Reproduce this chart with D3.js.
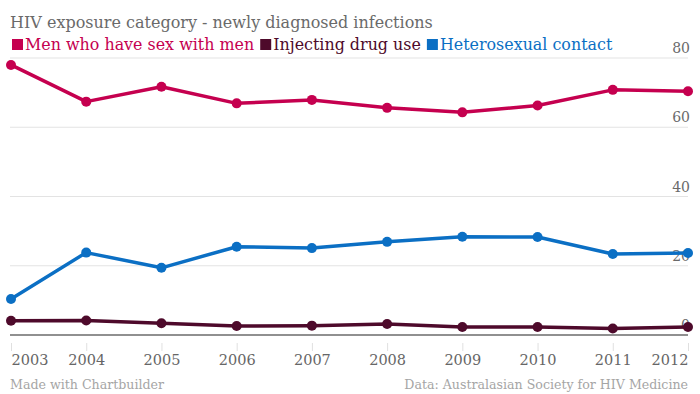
<!DOCTYPE html>
<html>
<head>
<meta charset="utf-8">
<script src="https://cdn.jsdelivr.net/npm/d3@7"></script>
<style>
  body { margin: 0; background: #fff; }
  text { font-family: "DejaVu Serif", "Liberation Serif", serif; }
</style>
</head>
<body>
<div id="chart"></div>
<script>
// data
var years = [2003, 2004, 2005, 2006, 2007, 2008, 2009, 2010, 2011, 2012];
var msm = [78.0, 67.4, 71.7, 66.9, 67.9, 65.6, 64.3, 66.3, 70.8, 70.4];
var idu = [4.1, 4.2, 3.4, 2.6, 2.7, 3.2, 2.3, 2.3, 1.9, 2.3];
var hetero = [10.4, 23.8, 19.4, 25.5, 25.1, 26.9, 28.4, 28.3, 23.4, 23.7];
var yTicks = [0, 20, 40, 60, 80];

var seriesNames = ["Men who have sex with men", "Injecting drug use", "Heterosexual contact"];
var seriesValues = [msm, idu, hetero];
var colors = ["#c5004f", "#4e0a2b", "#0b6fc4"];

var width = 700, height = 394;

var svg = d3.select("#chart").append("svg")
    .attr("width", width)
    .attr("height", height);

var x = d3.scalePoint()
    .domain(years)
    .range([11, 688]);

var y = d3.scaleLinear()
    .domain([0, 80])
    .range([335, 58]);

// y labels sit right, above their gridline (dots draw over them)
svg.append("g").selectAll("text")
    .data(yTicks)
  .enter().append("text")
    .attr("x", 690)
    .attr("y", function(d) { return y(d) - 5; })
    .attr("text-anchor", "end")
    .style("font-size", "14px")
    .style("fill", "#6a6a6a")
    .text(function(d) { return d; });

// gridlines
svg.append("g").selectAll("line")
    .data(yTicks.filter(function(d) { return d > 0; }))
  .enter().append("line")
    .attr("x1", 10)
    .attr("x2", 688)
    .attr("y1", function(d) { return y(d); })
    .attr("y2", function(d) { return y(d); })
    .style("stroke", "#e3e3e3")
    .style("stroke-width", 1);

// baseline
svg.append("line")
    .attr("x1", 10).attr("x2", 688)
    .attr("y1", y(0)).attr("y2", y(0))
    .style("stroke", "#6b6b6b")
    .style("stroke-width", 1.5);

// x axis
var xAxis = d3.axisBottom(x).tickSize(8).tickPadding(4);
var gx = svg.append("g")
    .attr("transform", "translate(0," + (y(0) + 8) + ")")
    .call(xAxis);
gx.select(".domain").remove();
gx.selectAll(".tick line").style("stroke", "#e0e0e0");
gx.selectAll(".tick text")
    .style("font-size", "14.5px")
    .style("font-family", "DejaVu Serif")
    .style("fill", "#666")
    .attr("y", 12)
    .attr("text-anchor", function(d, i) {
      if (i == 0) return "start";
      if (i == years.length - 1) return "end";
      return "middle";
    });

// lines
var line = d3.line()
    .x(function(d, i) { return x(years[i]); })
    .y(function(d) { return y(d); });

seriesValues.forEach(function(vals, s) {
  var g = svg.append("g");
  g.append("path")
      .datum(vals)
      .attr("d", line)
      .style("fill", "none")
      .style("stroke", colors[s])
      .style("stroke-width", 3.5)
      .style("stroke-linejoin", "round");
  g.selectAll("circle")
      .data(vals)
    .enter().append("circle")
      .attr("cx", function(d, i) { return x(years[i]); })
      .attr("cy", function(d) { return y(d); })
      .attr("r", 5)
      .style("fill", colors[s]);
});

// title
svg.append("text")
    .attr("x", 10)
    .attr("y", 28)
    .style("font-size", "16px")
    .style("fill", "#6a6a6a")
    .text("HIV exposure category - newly diagnosed infections");

// legend
var legend = svg.append("g").attr("transform", "translate(12,50)");
var lx = 0;
seriesNames.forEach(function(name, i) {
  var item = legend.append("g").attr("transform", "translate(" + lx + ",0)");
  item.append("rect")
      .attr("x", 0)
      .attr("y", -11)
      .attr("width", 11)
      .attr("height", 11)
      .style("fill", colors[i]);
  var t = item.append("text")
      .attr("x", 13)
      .attr("y", 0)
      .style("font-size", "15.9px")
      .style("fill", colors[i])
      .text(name);
  lx += 13 + t.node().getComputedTextLength() + 6;
});

// footer
svg.append("text")
    .attr("x", 10)
    .attr("y", 389)
    .style("font-size", "12.6px")
    .style("fill", "#a5a5a5")
    .text("Made with Chartbuilder");

svg.append("text")
    .attr("x", 688)
    .attr("y", 389)
    .attr("text-anchor", "end")
    .style("font-size", "12.6px")
    .style("fill", "#a5a5a5")
    .text("Data: Australasian Society for HIV Medicine");
</script>
</body>
</html>
